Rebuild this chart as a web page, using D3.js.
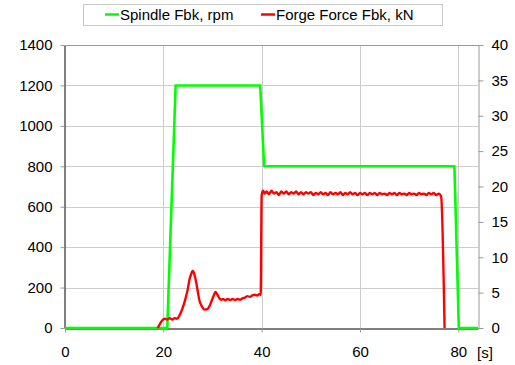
<!DOCTYPE html>
<html>
<head>
<meta charset="utf-8">
<script src="https://cdn.jsdelivr.net/npm/d3@7"></script>
<style>
  html, body { margin: 0; padding: 0; background: #fff; }
  svg { display: block; font-family: "Liberation Sans", Arial, sans-serif; }
</style>
</head>
<body>
<svg id="chart" width="515" height="365"></svg>
<script>
// Spindle speed feedback (rpm, left axis) vs time (s)
const spindleTime = [0, 20.8, 22.5, 39.7, 40.5, 79.2, 80.1, 84];
const spindleRpm  = [0, 0, 1200, 1200, 800, 800, 0, 0];

// Forge force feedback (kN, right axis) vs time (s)
const forgeTime = [
  18.8, 19.1, 19.4, 19.8, 20.3, 20.8, 21.3, 21.8, 22.3, 22.8, 23.3, 23.7, 24.2, 24.6, 25.0, 25.3, 25.7, 26.0,
  26.3, 26.7, 27.0, 27.3, 27.8, 28.4, 29.0, 29.4, 29.8, 30.2, 30.6, 31.0, 31.4, 31.8, 32.1, 32.6, 33.1, 33.6,
  34.1, 34.6, 35.1, 35.6, 36.1, 36.6, 37.1, 37.6, 38.1, 38.6, 39.1, 39.6, 39.8, 40.0, 40.3,
  40.6, 41.0, 41.5, 42.0, 42.5, 43.0, 43.5, 44.0, 44.5, 45.0, 45.5, 46.0, 46.5, 47.0, 47.5, 48.0, 48.5, 49.0,
  49.5, 50.0, 50.5, 51.0, 51.5, 52.0, 52.5, 53.0, 53.5, 54.0, 54.5, 55.0, 55.5, 56.0, 56.5, 57.0, 57.5, 58.0,
  58.5, 59.0, 59.5, 60.0, 60.5, 61.0, 61.5, 62.0, 62.5, 63.0, 63.5, 64.0, 64.5, 65.0, 65.5, 66.0, 66.5, 67.0,
  67.5, 68.0, 68.5, 69.0, 69.5, 70.0, 70.5, 71.0, 71.5, 72.0, 72.5, 73.0, 73.5, 74.0, 74.5, 75.0, 75.5, 76.0,
  76.5, 77.2
];
const forgeKn = [
  0, 0.3, 0.7, 1.1, 1.3, 1.2, 1.4, 1.2, 1.4, 1.3, 1.8, 2.4, 3.4, 4.4, 5.6, 6.8, 7.7, 8.1,
  7.6, 6.4, 5.2, 4.0, 3.1, 2.6, 2.7, 3.1, 3.8, 4.5, 5.1, 4.7, 4.2, 4.0, 4.1, 3.9, 4.1, 3.95,
  4.1, 3.95, 4.1, 4.0, 4.2, 4.3, 4.5, 4.4, 4.6, 4.7, 4.6, 4.8, 4.7, 18.8, 19.4,
  19.0, 19.3, 18.9, 19.4, 19.0, 19.2, 18.8, 19.3, 19.0, 19.3, 18.9, 19.2, 19.0, 19.3, 18.9, 19.2, 18.9, 19.2,
  19.0, 19.2, 18.8, 19.1, 18.9, 19.2, 18.9, 19.1, 18.8, 19.2, 18.9, 19.1, 18.9, 19.2, 18.8, 19.1, 18.9, 19.2,
  18.9, 19.1, 18.8, 19.1, 18.9, 19.1, 18.8, 19.1, 18.9, 19.1, 18.8, 19.1, 18.9, 19.0, 18.8, 19.1, 18.9, 19.1,
  18.8, 19.1, 18.9, 19.0, 18.8, 19.1, 18.9, 19.0, 18.8, 19.1, 18.9, 19.0, 18.8, 19.1, 18.9, 19.1, 18.8, 19.0,
  18.6, 0
];

const xTicks      = [0, 20, 40, 60, 80];
const leftTicks   = [0, 200, 400, 600, 800, 1000, 1200, 1400];
const rightTicks  = [0, 5, 10, 15, 20, 25, 30, 35, 40];
const seriesNames = ["Spindle Fbk, rpm", "Forge Force Fbk, kN"];
const seriesColors = ["#00ff00", "#ff0000"];
const xUnit = "[s]";

const svg = d3.select("#chart");
const plotLeft = 65, plotRight = 478, plotTop = 45, plotBottom = 328;

const x  = d3.scaleLinear().domain([0, 84]).range([plotLeft, plotRight]);
const yL = d3.scaleLinear().domain([0, 1400]).range([plotBottom, plotTop]);
const yR = d3.scaleLinear().domain([0, 40]).range([plotBottom, plotTop]);
const fmt = d3.format("d");

// grid
const grid = svg.append("g").attr("stroke", "#cccccc").attr("stroke-width", 1);
grid.selectAll("line.h").data(leftTicks.filter(d => d > 0)).join("line")
  .attr("x1", plotLeft).attr("x2", plotRight)
  .attr("y1", d => Math.round(yL(d)) + 0.5).attr("y2", d => Math.round(yL(d)) + 0.5);
grid.selectAll("line.v").data(xTicks.filter(d => d > 0)).join("line")
  .attr("y1", plotTop).attr("y2", plotBottom)
  .attr("x1", d => Math.round(x(d)) + 0.5).attr("x2", d => Math.round(x(d)) + 0.5);

// axes
const fontSize = 15;
const styleAxis = (g, domainColor) => {
  g.select(".domain").attr("stroke", domainColor);
  g.selectAll(".tick line").attr("stroke", "#999");
  g.selectAll("text").attr("font-size", fontSize).attr("fill", "#000")
    .attr("font-family", "Liberation Sans, Arial, sans-serif");
};

const gL = svg.append("g").attr("transform", `translate(${plotLeft - 0.5},0)`)
  .call(d3.axisLeft(yL).tickValues(leftTicks).tickFormat(fmt).tickSize(4).tickSizeOuter(0).tickPadding(8));
styleAxis(gL, "#000");

const gR = svg.append("g").attr("transform", `translate(${plotRight + 0.5},0)`)
  .call(d3.axisRight(yR).tickValues(rightTicks).tickFormat(fmt).tickSize(5).tickSizeOuter(0).tickPadding(8));
styleAxis(gR, "#999");

const gX = svg.append("g").attr("transform", `translate(0,${plotBottom + 0.5})`)
  .call(d3.axisBottom(x).tickValues(xTicks).tickFormat(fmt).tickSize(4).tickSizeOuter(0).tickPadding(14));
styleAxis(gX, "#000");

// top border
svg.append("line").attr("x1", plotLeft).attr("x2", plotRight + 1)
  .attr("y1", plotTop + 0.5).attr("y2", plotTop + 0.5).attr("stroke", "#999");

svg.append("text").attr("x", plotRight - 1).attr("y", plotBottom + 30)
  .attr("font-size", fontSize).text(xUnit);

// series
const spindleLine = d3.line().x((d, i) => x(spindleTime[i])).y(d => yL(d));
const forgeLine = d3.line().x((d, i) => x(forgeTime[i])).y(d => yR(d)).curve(d3.curveMonotoneX);

svg.append("path").datum(spindleRpm).attr("d", spindleLine)
  .attr("fill", "none").attr("stroke", seriesColors[0]).attr("stroke-width", 2.6)
  .attr("stroke-linejoin", "round");
svg.append("path").datum(forgeKn).attr("d", forgeLine)
  .attr("fill", "none").attr("stroke", seriesColors[1]).attr("stroke-width", 2.4)
  .attr("stroke-linejoin", "round");

// legend
const lg = svg.append("g");
lg.append("rect").attr("x", 83.5).attr("y", 4.5).attr("width", 359).attr("height", 21)
  .attr("fill", "#fff").attr("stroke", "#c8c8c8");
const legendX = [105, 261];
seriesNames.forEach((name, i) => {
  lg.append("line").attr("x1", legendX[i]).attr("x2", legendX[i] + 14)
    .attr("y1", 14.5).attr("y2", 14.5).attr("stroke", seriesColors[i]).attr("stroke-width", 2.5);
  lg.append("text").attr("x", legendX[i] + 15).attr("y", 20)
    .attr("font-size", fontSize).text(name);
});
</script>
</body>
</html>
